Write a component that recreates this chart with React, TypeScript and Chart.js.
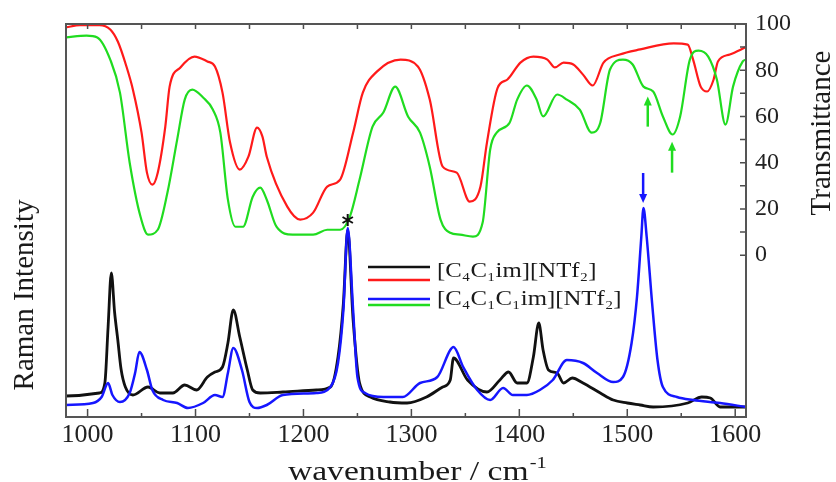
import React, { useEffect, useRef } from 'react';
import { Chart, registerables } from 'chart.js';

Chart.register(...registerables);

// ---------- Raman spectra (arbitrary intensity) ----------
const ramanWnC4C1 = [980, 1011, 1016, 1019, 1022, 1025, 1028, 1031, 1035, 1042, 1056, 1067, 1079, 1090, 1101, 1111, 1118, 1125, 1130, 1135, 1141, 1148, 1153, 1160, 1181, 1212, 1225, 1232, 1237, 1241, 1246, 1252, 1262, 1280, 1296, 1314, 1329, 1336, 1339, 1352, 1370, 1382, 1390, 1398, 1407, 1413, 1418, 1422, 1427, 1435, 1441, 1449, 1459, 1475, 1487, 1500, 1512, 1524, 1556, 1569, 1577, 1586, 1610];
const ramanIC4C1 = [21, 24, 34, 90, 144, 105, 77, 48, 30, 22, 30, 24, 24, 32, 27, 40, 45, 50, 74, 107, 80, 47, 27, 24, 25, 27, 30, 60, 114, 187, 97, 34, 20, 15, 14, 20, 30, 37, 59, 37, 25, 37, 45, 34, 34, 60, 94, 67, 47, 44, 34, 39, 34, 24, 17, 14, 12, 10, 14, 20, 19, 10, 10];

const ramanWnC4C1C1 = [980, 1005, 1013, 1019, 1023, 1030, 1039, 1044, 1048, 1055, 1060, 1070, 1083, 1093, 1107, 1118, 1125, 1130, 1135, 1143, 1150, 1157, 1166, 1181, 1212, 1225, 1232, 1237, 1241, 1246, 1250, 1257, 1274, 1292, 1308, 1324, 1336, 1339, 1348, 1361, 1373, 1385, 1394, 1407, 1419, 1431, 1444, 1459, 1472, 1487, 1496, 1504, 1509, 1513, 1515, 1518, 1523, 1528, 1533, 1546, 1561, 1586, 1610];
const ramanIC4C1C1 = [12, 14, 20, 34, 22, 15, 24, 44, 65, 47, 27, 17, 14, 9, 14, 22, 20, 44, 69, 47, 15, 9, 12, 22, 24, 30, 54, 107, 189, 107, 40, 24, 20, 20, 34, 40, 67, 70, 50, 27, 17, 29, 22, 22, 27, 37, 57, 54, 44, 35, 40, 74, 120, 180, 209, 180, 114, 57, 30, 20, 17, 14, 10];

// ---------- IR transmittance (%) ----------
const irWnC4C1 = [980, 993, 1011, 1021, 1028, 1036, 1042, 1050, 1055, 1060, 1065, 1072, 1076, 1086, 1099, 1111, 1118, 1125, 1132, 1141, 1149, 1157, 1162, 1166, 1185, 1197, 1209, 1222, 1234, 1246, 1255, 1268, 1290, 1306, 1317, 1329, 1342, 1354, 1364, 1370, 1380, 1389, 1401, 1413, 1426, 1433, 1441, 1450, 1459, 1468, 1478, 1493, 1512, 1543, 1556, 1561, 1568, 1574, 1580, 1584, 1595, 1610];
const irTC4C1 = [98.5, 99.5, 99.5, 97.6, 92.4, 81.6, 71.6, 53, 35.7, 30.5, 35.7, 55.6, 72.9, 81.2, 85.9, 83.8, 81.6, 70.3, 48.7, 37, 42.6, 55.2, 51.3, 42.6, 21, 15.4, 18.4, 29.7, 32.7, 53, 70.3, 79.4, 84.6, 81.6, 67.3, 38.3, 35.7, 23.2, 29.7, 48.7, 72.5, 76, 83.3, 85.9, 84.6, 81.2, 83.3, 82.5, 78.1, 73.4, 83.3, 86.8, 89, 91.6, 91.1, 84.6, 72.9, 70.8, 76, 83.8, 86.8, 90];

const irWnC4C1C1 = [980, 999, 1009, 1021, 1030, 1039, 1049, 1056, 1065, 1074, 1083, 1090, 1097, 1107, 1116, 1123, 1130, 1137, 1144, 1153, 1160, 1166, 1175, 1190, 1209, 1222, 1234, 1243, 1252, 1264, 1274, 1285, 1297, 1308, 1317, 1327, 1336, 1345, 1357, 1366, 1373, 1379, 1391, 1398, 1407, 1416, 1422, 1435, 1444, 1456, 1467, 1475, 1484, 1496, 1505, 1515, 1524, 1533, 1542, 1549, 1558, 1566, 1575, 1583, 1591, 1598, 1607, 1610];
const irTC4C1C1 = [94.2, 95, 94.2, 84.6, 70.3, 40, 16.7, 8.9, 11, 27.1, 50, 67.3, 71.6, 68.2, 63, 53, 24, 12.3, 12.3, 25.3, 29.2, 24, 12.3, 8.9, 8.9, 11, 11, 16.7, 32.7, 55.6, 61.7, 72.9, 59.9, 53, 38.3, 15.4, 9.7, 8.9, 8, 14.1, 45.7, 53, 57.3, 67.3, 73.4, 67.3, 60, 69.5, 67.3, 63, 53, 57.3, 80.3, 84.6, 82.5, 72.9, 70.8, 60, 52.2, 60, 84.6, 88.5, 85.9, 76, 56.5, 72.9, 83.8, 84.6];

// ---------- ticks / labels ----------
const xTickValues = [1000, 1100, 1200, 1300, 1400, 1500, 1600];
const xMinorTickValues = [1000, 1050, 1100, 1150, 1200, 1250, 1300, 1350, 1400, 1450, 1500, 1550, 1600];
const tTickValues = [0, 20, 40, 60, 80, 100];
const tMinorTickValues = [0, 10, 20, 30, 40, 50, 60, 70, 80, 90, 100];
const legendLabels = ['[C\u2084C\u2081im][NTf\u2082]', '[C\u2084C\u2081C\u2081im][NTf\u2082]'];
const xTitle = 'wavenumber / cm';
const xTitleSup = '-1';
const leftTitle = 'Raman Intensity';
const rightTitle = 'Transmittance';

// ---------- annotations (data units) ----------
const greenArrowWn = [1519, 1541.5];
const greenArrowTail = [55.6, 35.7];
const greenArrowTip = [68.6, 49.1];
const blueArrowWn = 1514.7;
const blueArrowTail = 244;
const blueArrowTip = 214;
const starWn = 1241;
const starValue = 197;

const SERIF = "'Liberation Serif', 'Times New Roman', Times, serif";
const BLACK = '#111111';
const RED = '#ff1a1a';
const BLUE = '#1616ff';
const GREEN = '#20dc20';

const pts = (xs: number[], ys: number[]) => xs.map((x, i) => ({ x, y: ys[i] }));

function stretchedText(ctx: CanvasRenderingContext2D, text: string, x: number, y: number, font: string, stretch: number, align: 'left' | 'center') {
  ctx.save();
  ctx.font = font;
  const w = ctx.measureText(text).width * stretch;
  const start = align === 'center' ? x - w / 2 : x;
  ctx.translate(start, y);
  ctx.scale(stretch, 1);
  ctx.textAlign = 'left';
  ctx.fillText(text, 0, 0);
  ctx.restore();
}

function arrow(ctx: CanvasRenderingContext2D, x: number, yTail: number, yTip: number, color: string) {
  const dir = yTip < yTail ? -1 : 1;
  const headLen = 9;
  ctx.save();
  ctx.strokeStyle = color;
  ctx.fillStyle = color;
  ctx.lineWidth = 2.5;
  ctx.beginPath();
  ctx.moveTo(x, yTail);
  ctx.lineTo(x, yTip - dir * headLen * 0.6);
  ctx.stroke();
  ctx.beginPath();
  ctx.moveTo(x, yTip);
  ctx.lineTo(x - 4, yTip - dir * headLen);
  ctx.lineTo(x + 4, yTip - dir * headLen);
  ctx.closePath();
  ctx.fill();
  ctx.restore();
}

const decorPlugin = {
  id: 'decor',
  afterDraw(chart: any) {
    const { ctx, chartArea: ca, scales } = chart;
    const sx = scales.x;
    const sr = scales.y;
    const st = scales.y2;
    ctx.save();

    // inward tick marks
    ctx.strokeStyle = '#4d4d4d';
    ctx.lineWidth = 1.5;
    ctx.beginPath();
    for (const v of xMinorTickValues) {
      const px = sx.getPixelForValue(v);
      const len = v % 100 === 0 ? 8 : 4;
      ctx.moveTo(px, ca.bottom);
      ctx.lineTo(px, ca.bottom - len);
      ctx.moveTo(px, ca.top);
      ctx.lineTo(px, ca.top + 5);
    }
    for (const v of tMinorTickValues) {
      const py = st.getPixelForValue(v);
      ctx.moveTo(ca.right, py);
      ctx.lineTo(ca.right - 6, py);
    }
    ctx.stroke();

    // frame
    ctx.strokeStyle = '#555555';
    ctx.lineWidth = 2;
    ctx.strokeRect(ca.left, ca.top, ca.right - ca.left, ca.bottom - ca.top);

    // axis titles
    ctx.fillStyle = '#1a1a1a';
    ctx.textBaseline = 'alphabetic';
    {
      const f1 = `28px ${SERIF}`;
      const f2 = `17px ${SERIF}`;
      const stretch = 1.2;
      ctx.font = f1;
      const w1 = ctx.measureText(xTitle).width * stretch;
      ctx.font = f2;
      const w2 = ctx.measureText(xTitleSup).width * stretch;
      const cx = (sx.getPixelForValue(1300) + sx.getPixelForValue(1310)) / 2;
      const start = cx - (w1 + w2) / 2;
      stretchedText(ctx, xTitle, start, 480, f1, stretch, 'left');
      stretchedText(ctx, xTitleSup, start + w1 + 1, 468, f2, stretch, 'left');
    }
    const vertical = (text: string, bx: number, cy: number) => {
      ctx.save();
      ctx.translate(bx, cy);
      ctx.rotate(-Math.PI / 2);
      ctx.font = `29px ${SERIF}`;
      ctx.textAlign = 'center';
      ctx.textBaseline = 'alphabetic';
      ctx.fillText(text, 0, 0);
      ctx.restore();
    };
    vertical(leftTitle, 33, 295);
    vertical(rightTitle, 830, 133);

    // legend
    const legendRows = [
      { colors: [BLACK, RED], ys: [267, 280], textY: 271, label: legendLabels[0] },
      { colors: [BLUE, GREEN], ys: [299, 305], textY: 299, label: legendLabels[1] },
    ];
    for (const row of legendRows) {
      row.colors.forEach((c, i) => {
        ctx.strokeStyle = c;
        ctx.lineWidth = 2.5;
        ctx.beginPath();
        ctx.moveTo(368, row.ys[i]);
        ctx.lineTo(430, row.ys[i]);
        ctx.stroke();
      });
      ctx.fillStyle = '#1a1a1a';
      ctx.textBaseline = 'middle';
      stretchedText(ctx, row.label, 437, row.textY, `21px ${SERIF}`, 1.18, 'left');
    }

    // arrows
    greenArrowWn.forEach((wn, i) => {
      arrow(ctx, sx.getPixelForValue(wn), st.getPixelForValue(greenArrowTail[i]), st.getPixelForValue(greenArrowTip[i]), GREEN);
    });
    arrow(ctx, sx.getPixelForValue(blueArrowWn), sr.getPixelForValue(blueArrowTail), sr.getPixelForValue(blueArrowTip), BLUE);

    // asterisk
    {
      const cx = sx.getPixelForValue(starWn);
      const cy = sr.getPixelForValue(starValue);
      ctx.strokeStyle = '#111';
      ctx.lineWidth = 2;
      ctx.beginPath();
      for (let k = 0; k < 3; k++) {
        const a = Math.PI / 2 + (k * Math.PI) / 3;
        ctx.moveTo(cx - 6 * Math.cos(a), cy - 6 * Math.sin(a));
        ctx.lineTo(cx + 6 * Math.cos(a), cy + 6 * Math.sin(a));
      }
      ctx.stroke();
    }
    ctx.restore();
  },
};

export default function App() {
  const ref = useRef<HTMLCanvasElement>(null);
  useEffect(() => {
    if (!ref.current) return;
    const chart = new Chart(ref.current, {
      type: 'line',
      data: {
        datasets: [
          { label: 'Raman ' + legendLabels[1], data: pts(ramanWnC4C1C1, ramanIC4C1C1), yAxisID: 'y', borderColor: BLUE, borderWidth: 2.5, cubicInterpolationMode: 'monotone', order: 0 },
          { label: 'Raman ' + legendLabels[0], data: pts(ramanWnC4C1, ramanIC4C1), yAxisID: 'y', borderColor: BLACK, borderWidth: 2.8, cubicInterpolationMode: 'monotone', order: 1 },
          { label: 'IR ' + legendLabels[1], data: pts(irWnC4C1C1, irTC4C1C1), yAxisID: 'y2', borderColor: GREEN, borderWidth: 2.2, cubicInterpolationMode: 'monotone', order: 2 },
          { label: 'IR ' + legendLabels[0], data: pts(irWnC4C1, irTC4C1), yAxisID: 'y2', borderColor: RED, borderWidth: 2.2, cubicInterpolationMode: 'monotone', order: 3 },
        ] as any,
      },
      options: {
        responsive: false,
        animation: false,
        devicePixelRatio: 1,
        layout: { padding: { top: 24, left: 0, right: 0, bottom: 0 } },
        elements: { point: { radius: 0 }, line: { borderJoinStyle: 'round', fill: false } },
        plugins: { legend: { display: false }, tooltip: { enabled: false }, title: { display: false } },
        scales: {
          x: {
            type: 'linear',
            position: 'bottom',
            min: 980,
            max: 1610,
            grid: { display: false, drawTicks: false },
            border: { display: false },
            afterBuildTicks: (s: any) => { s.ticks = xTickValues.map((v) => ({ value: v })); },
            afterFit: (s: any) => { s.height = 65; },
            ticks: { font: { family: SERIF, size: 26 }, color: '#222', padding: 3, maxRotation: 0, autoSkip: false, callback: (v: any) => String(v) },
          },
          y: {
            type: 'linear',
            position: 'left',
            min: 0,
            max: 393,
            grid: { display: false, drawTicks: false },
            border: { display: false },
            ticks: { display: false },
            afterFit: (s: any) => { s.width = 66; },
          },
          y2: {
            type: 'linear',
            position: 'right',
            min: -70,
            max: 100,
            grid: { display: false, drawTicks: false },
            border: { display: false },
            afterBuildTicks: (s: any) => { s.ticks = tTickValues.map((v) => ({ value: v })); },
            afterFit: (s: any) => { s.width = 90; },
            ticks: { font: { family: SERIF, size: 24 }, color: '#222', padding: 9, callback: (v: any) => String(v) },
          },
        },
      } as any,
      plugins: [decorPlugin],
    });
    return () => chart.destroy();
  }, []);
  return (
    <div style={{ position: 'fixed', left: 0, top: 0, width: 836, height: 482, background: '#ffffff' }}>
      <canvas ref={ref} width={836} height={482} style={{ display: 'block', width: 836, height: 482 }} />
    </div>
  );
}
